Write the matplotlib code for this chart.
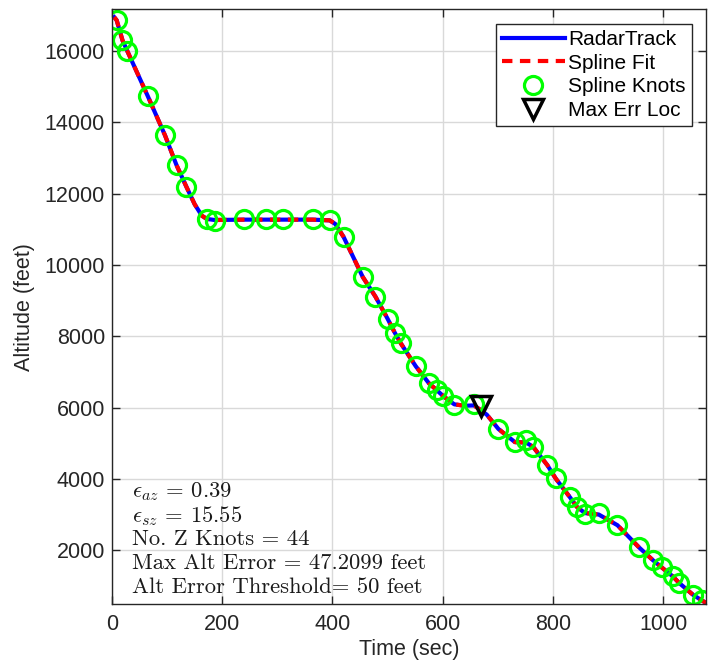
import numpy as np
import matplotlib
matplotlib.use('Agg')
import matplotlib.pyplot as plt

plt.rcParams['font.family'] = ['Liberation Sans', 'DejaVu Sans']
plt.rcParams['mathtext.fontset'] = 'cm'
plt.rcParams['axes.unicode_minus'] = False

# spline knots (time sec, altitude feet)
knot_t = [8.5, 19, 28, 65, 96, 117, 135, 172, 186, 239, 279, 311, 364, 395, 420,
          455, 478, 500, 513, 524, 551, 575, 589, 601, 621, 657, 701, 731, 751, 764,
          790, 805, 831, 843, 858, 883, 917, 956, 982, 997, 1017, 1029, 1054, 1070]
knot_alt = [16860, 16300, 15990, 14730, 13640, 12800, 12190, 11290, 11240, 11290,
            11290, 11290, 11290, 11260, 10790, 9660, 9110, 8490, 8100, 7800, 7160,
            6680, 6490, 6320, 6070, 6090, 5400, 5020, 5090, 4880, 4380, 4010, 3480,
            3200, 3010, 3040, 2700, 2080, 1710, 1520, 1270, 1080, 750, 590]

# radar track samples (follows the knots, plus the ends of the plotted curve)
track_t = [4, 8.5, 19, 28, 65, 96, 117, 135, 150, 163, 172, 186, 239, 279, 311, 364,
           395, 405, 420, 455, 478, 500, 513, 524, 551, 575, 589, 601, 621, 640, 657,
           680, 701, 731, 751, 764, 790, 805, 831, 843, 858, 883, 917, 956, 982, 997,
           1017, 1029, 1054, 1070, 1078]
track_alt = [16950, 16860, 16300, 15990, 14730, 13640, 12800, 12190, 11700, 11380,
             11290, 11260, 11270, 11270, 11270, 11270, 11250, 11150, 10790, 9660,
             9110, 8490, 8100, 7800, 7160, 6680, 6490, 6320, 6090, 6050, 6060, 5800,
             5400, 5030, 5020, 4900, 4380, 4010, 3480, 3220, 3040, 3000, 2700, 2080,
             1710, 1520, 1270, 1080, 750, 590, 520]

max_err_t = 669
max_err_alt = 6040

info = [r'$\epsilon_{az}$ = 0.39',
        r'$\epsilon_{sz}$ = 15.55',
        'No. Z Knots = 44',
        'Max Alt Error = 47.2099 feet',
        'Alt Error Threshold= 50 feet']

fig = plt.figure(figsize=(7.09, 6.63), dpi=100)
ax = fig.add_axes([0.158, 0.089, 0.838, 0.897])

ax.plot(track_t, track_alt, '-', color='#0000ff', lw=3, label='RadarTrack')
ax.plot(track_t, track_alt, '--', color='#ff0000', lw=3, dashes=(2.5, 1.8),
        label='Spline Fit')
ax.plot(knot_t, knot_alt, 'o', ls='none', mfc='none', mec='#00ff00', mew=2.3,
        ms=13, label='Spline Knots')
ax.plot([max_err_t], [max_err_alt], 'v', ls='none', mfc='none', mec='k', mew=2.5,
        ms=14, label='Max Err Loc')

ax.set_xlim(0, 1078)
ax.set_ylim(490, 17170)
ax.set_xticks([0, 200, 400, 600, 800, 1000])
ax.set_yticks([2000, 4000, 6000, 8000, 10000, 12000, 14000, 16000])
ax.grid(True, color='#d9d9d9', lw=1)
ax.set_axisbelow(True)
ax.tick_params(direction='in', top=True, right=True, labelsize=15.5, length=6,
               width=1, colors='#262626')
ax.tick_params(axis='x', pad=7)
ax.tick_params(axis='y', pad=5)
for s in ax.spines.values():
    s.set_color('#262626')
    s.set_linewidth(1)

ax.set_xlabel('Time (sec)', fontsize=15.5, color='#262626', labelpad=3)
ax.set_ylabel('Altitude (feet)', fontsize=15.5, color='#262626', labelpad=7)

for i, line in enumerate(info):
    ax.text(0.033, 0.189 - i * 0.0404, line, transform=ax.transAxes,
            fontsize=16.3, va='center', color='#1a1a1a', fontname='cmr10')

leg = ax.legend(loc='upper right', fontsize=15, frameon=True, fancybox=False,
                edgecolor='#262626', framealpha=1, handlelength=3.0,
                borderpad=0.3, labelspacing=0.22, handletextpad=0.15,
                borderaxespad=0.7)
leg.get_frame().set_linewidth(1)

fig.savefig('out.png', dpi=100)
